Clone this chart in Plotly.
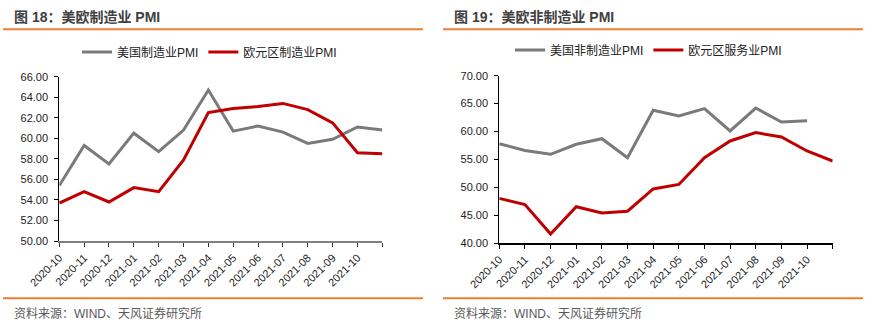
import plotly.graph_objects as go

months = ["2020-10", "2020-11", "2020-12", "2021-01", "2021-02", "2021-03", "2021-04",
          "2021-05", "2021-06", "2021-07", "2021-08", "2021-09", "2021-10", "2021-11"]
tick_labels = months[:-1] + [""]

us_mfg = [55.4, 59.3, 57.5, 60.5, 58.7, 60.8, 64.7, 60.7, 61.2, 60.6, 59.5, 59.9, 61.1, 60.8]
ez_mfg = [53.7, 54.8, 53.8, 55.2, 54.8, 57.9, 62.5, 62.9, 63.1, 63.4, 62.8, 61.5, 58.6, 58.5]
us_svc = [57.8, 56.6, 55.9, 57.7, 58.7, 55.3, 63.8, 62.8, 64.1, 60.1, 64.2, 61.7, 61.9]
ez_svc = [48.0, 46.9, 41.6, 46.5, 45.4, 45.7, 49.7, 50.5, 55.3, 58.3, 59.8, 59.0, 56.5, 54.7]

GRAY = "#7a7a7a"
RED = "#c00000"
ORANGE = "#ED7D31"
FONT = "Liberation Sans, Noto Sans CJK SC, sans-serif"
W, H = 883, 330

fig = go.Figure()
fig.add_trace(go.Scatter(x=months[:len(us_mfg)], y=us_mfg, mode="lines", name="美国制造业PMI",
                         line=dict(color=GRAY, width=3), xaxis="x", yaxis="y", legend="legend"))
fig.add_trace(go.Scatter(x=months[:len(ez_mfg)], y=ez_mfg, mode="lines", name="欧元区制造业PMI",
                         line=dict(color=RED, width=3), xaxis="x", yaxis="y", legend="legend"))
fig.add_trace(go.Scatter(x=months[:len(us_svc)], y=us_svc, mode="lines", name="美国非制造业PMI",
                         line=dict(color=GRAY, width=3), xaxis="x2", yaxis="y2", legend="legend2"))
fig.add_trace(go.Scatter(x=months[:len(ez_svc)], y=ez_svc, mode="lines", name="欧元区服务业PMI",
                         line=dict(color=RED, width=3), xaxis="x2", yaxis="y2", legend="legend2"))

def px(x):
    return x / W

def py(y):
    return 1 - y / H

xcommon = dict(type="category", categoryorder="array", categoryarray=months,
               range=[0, len(months) - 1], tickvals=months, ticktext=tick_labels,
               tickangle=-45, ticks="outside", ticklen=4, showgrid=False, zeroline=False,
               tickfont=dict(size=11, color="#222", family=FONT), showline=True,
               automargin=False)
ycommon = dict(ticks="outside", ticklen=4, showgrid=False, zeroline=False, showline=True,
               tickformat=".2f", tickfont=dict(size=11, color="#222", family=FONT),
               linecolor="#000", linewidth=1, tickcolor="#000", automargin=False,
               ticklabelstandoff=4)

fig.update_layout(
    width=W, height=H, margin=dict(l=0, r=0, t=0, b=0, autoexpand=False),
    paper_bgcolor="white", plot_bgcolor="white",
    font=dict(family=FONT, size=12, color="#222"),
    xaxis=dict(xcommon, domain=[px(59.3), px(382.3)], anchor="y",
               linecolor="#808080", linewidth=2, tickcolor="#333"),
    yaxis=dict(ycommon, domain=[py(241), py(76.7)], anchor="x", range=[50, 66], dtick=2),
    xaxis2=dict(xcommon, domain=[px(499.3), px(832.7)], anchor="y2",
                linecolor="#000", linewidth=1.5, tickcolor="#000"),
    yaxis2=dict(ycommon, domain=[py(243), py(75.7)], anchor="x2", range=[40, 70], dtick=5),
    legend=dict(orientation="h", x=px(77), y=py(52), xanchor="left", yanchor="middle",
                font=dict(size=12, color="#222"), itemwidth=30, bgcolor="rgba(0,0,0,0)"),
    legend2=dict(orientation="h", x=px(510), y=py(50), xanchor="left", yanchor="middle",
                 font=dict(size=12, color="#222"), itemwidth=30, bgcolor="rgba(0,0,0,0)"),
    showlegend=True,
)

titles = [("图 18：美欧制造业 PMI", 12), ("图 19：美欧非制造业 PMI", 452)]
for text, x0 in titles:
    fig.add_annotation(text="<b>" + text + "</b>", x=px(x0), y=py(17), xref="paper", yref="paper",
                       xanchor="left", yanchor="middle", showarrow=False,
                       font=dict(size=14, color="#404040", family=FONT))
for text, x0 in [("资料来源：WIND、天风证券研究所", 12), ("资料来源：WIND、天风证券研究所", 452)]:
    fig.add_annotation(text=text, x=px(x0), y=py(313), xref="paper", yref="paper",
                       xanchor="left", yanchor="middle", showarrow=False,
                       font=dict(size=12, color="#595959", family=FONT))
for x0, x1 in [(3, 423), (443, 863)]:
    for yy in (29.3, 298.3):
        fig.add_shape(type="line", xref="paper", yref="paper", x0=px(x0), x1=px(x1),
                      y0=py(yy), y1=py(yy), line=dict(color=ORANGE, width=2))

fig.write_html("out.html")
